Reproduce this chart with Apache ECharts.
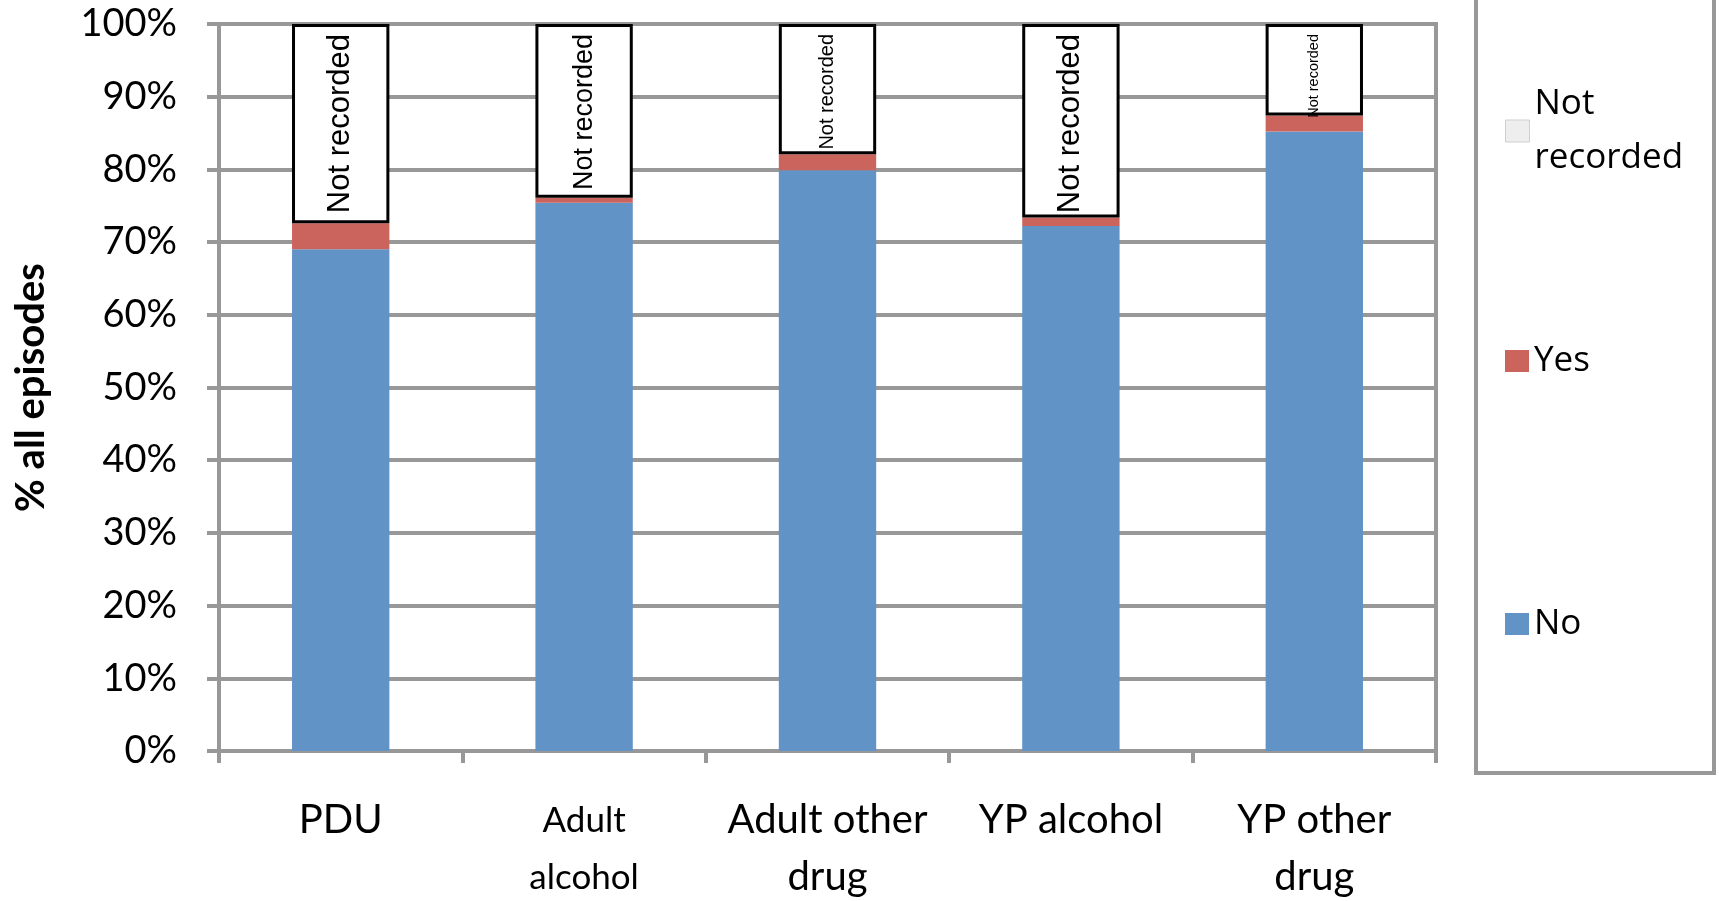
<!DOCTYPE html>
<html>
<head>
<meta charset="utf-8">
<script src="https://cdn.jsdelivr.net/npm/echarts@6/dist/echarts.min.js"></script>
<style>
html,body{margin:0;padding:0;background:#fff;}
#chart{width:1719px;height:901px;}
</style>
</head>
<body>
<div id="chart"></div>
<script>
const categories = ['PDU', 'Adult\nalcohol', 'Adult other\ndrug', 'YP alcohol', 'YP other\ndrug'];
const noValues = [69.0, 75.4, 79.9, 72.2, 85.2];
const yesValues = [3.6, 0.7, 2.2, 1.2, 2.2];
const notRecordedValues = [27.4, 23.9, 17.9, 26.6, 12.6];
const notRecordedLabel = 'Not recorded';
const yAxisTitle = '% all episodes';

// label font sizes per bar (style only)
const nrFontSizes = [31, 27, 20, 31, 14.5];

const chart = echarts.init(document.getElementById('chart'), null, {renderer: 'canvas'});
const gridColor = '#989898';
const axisFont = 'Lato, "Open Sans", sans-serif';
const legendFont = '"Open Sans", sans-serif';

const option = {
  animation: false,
  backgroundColor: '#fff',
  grid: {left: 219, right: 283, top: 24, bottom: 150, show: true, borderColor: gridColor, borderWidth: 4,
         backgroundColor: 'transparent', outerBoundsMode: 'none', containLabel: false},
  xAxis: {
    type: 'category',
    data: categories,
    axisLine: {lineStyle: {color: gridColor, width: 4}},
    axisTick: {show: true, interval: 0, length: 12, lineStyle: {color: gridColor, width: 4}},
    axisLabel: {
      interval: 0,
      hideOverlap: false,
      margin: 41,
      color: '#000',
      fontFamily: axisFont,
      fontSize: 40,
      lineHeight: 57,
      formatter: function (v) {
        if (v === 'Adult\nalcohol') return '{s|Adult}\n{s|alcohol}';
        return v;
      },
      rich: {s: {fontSize: 35, lineHeight: 57, fontFamily: axisFont, color: '#000'}}
    }
  },
  yAxis: {
    type: 'value',
    min: 0, max: 100, interval: 10,
    name: yAxisTitle,
    nameLocation: 'middle',
    nameGap: 168,
    nameTextStyle: {fontFamily: axisFont, fontWeight: 'bold', fontSize: 40, color: '#000'},
    axisLine: {show: true, lineStyle: {color: gridColor, width: 4}},
    axisTick: {show: true, length: 12, lineStyle: {color: gridColor, width: 4}},
    splitLine: {lineStyle: {color: gridColor, width: 4}},
    axisLabel: {margin: 42, color: '#000', fontFamily: axisFont, fontSize: 38, formatter: '{value}%'}
  },
  legend: [
    {data: [{name: 'Not recorded', itemStyle: {color: '#eeeeee', borderColor: '#cfcfcf', borderWidth: 1}}],
     orient: 'vertical', left: 1500, top: 72, itemWidth: 24, itemHeight: 22, itemGap: 0, icon: 'rect',
     textStyle: {fontFamily: legendFont, fontSize: 35, lineHeight: 54, color: '#000'},
     formatter: function () { return 'Not\nrecorded'; }},
    {data: ['Yes'], orient: 'vertical', left: 1500, top: 329, itemWidth: 24, itemHeight: 22, icon: 'rect',
     textStyle: {fontFamily: legendFont, fontSize: 35, lineHeight: 54, color: '#000'}},
    {data: ['No'], orient: 'vertical', left: 1500, top: 592, itemWidth: 24, itemHeight: 22, icon: 'rect',
     textStyle: {fontFamily: legendFont, fontSize: 35, lineHeight: 54, color: '#000'}}
  ],
  graphic: [{
    type: 'rect', shape: {x: 1476, y: -10, width: 238, height: 783},
    style: {fill: 'none', stroke: gridColor, lineWidth: 4}, silent: true
  }],
  series: [
    {name: 'No', type: 'bar', stack: 'all', barWidth: '40%', data: noValues,
     itemStyle: {color: '#6193C7'}},
    {name: 'Yes', type: 'bar', stack: 'all', barWidth: '40%', data: yesValues,
     itemStyle: {color: '#CC645E'}},
    {name: 'Not recorded', type: 'bar', stack: 'all', barWidth: '40%',
     data: notRecordedValues.map(function (v, i) {
       return {value: v, label: {fontSize: nrFontSizes[i]}};
     }),
     itemStyle: {color: '#ffffff', borderColor: '#000', borderWidth: 3},
     label: {
       show: true, position: 'insideTop', rotate: 90, align: 'right', verticalAlign: 'middle',
       distance: 10, color: '#000', fontFamily: '"Liberation Sans Narrow", "Liberation Sans", Arial, sans-serif',
       formatter: function () { return notRecordedLabel; }
     }}
  ]
};
chart.setOption(option);
</script>
</body>
</html>
